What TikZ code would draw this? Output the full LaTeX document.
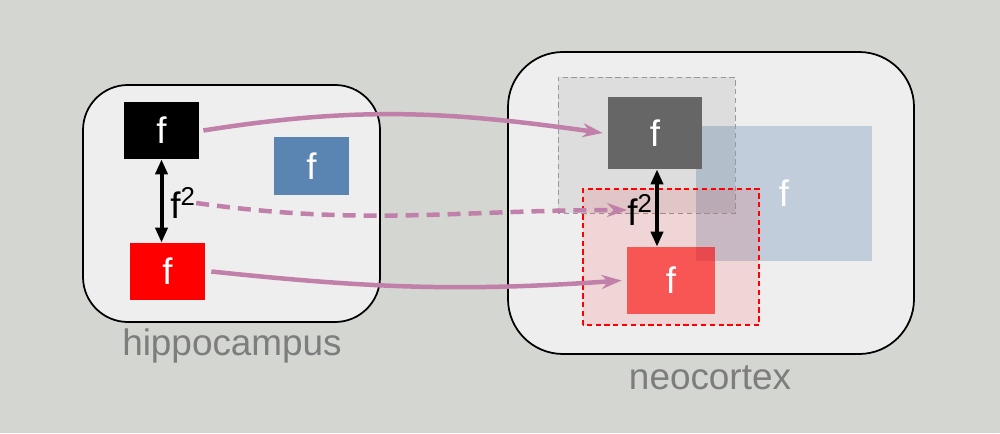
\documentclass[tikz,border=0pt]{standalone}
\usepackage{fontspec}
\setmainfont{Liberation Sans}
\usepackage{tikz}
\usetikzlibrary{arrows.meta,positioning,calc}
\usepackage{xcolor}
\definecolor{bggray}{RGB}{212,214,209}
\definecolor{panelgray}{RGB}{238,238,238}
\definecolor{labelgray}{RGB}{125,125,125}
\definecolor{linkpink}{RGB}{192,128,170}
\definecolor{steelblue}{RGB}{90,132,177}
\definecolor{darkgray}{RGB}{102,102,102}
\tikzset{
    region/.style={draw=black, line width=0.035cm, fill=panelgray, rounded corners=0.9cm},
    fbox/.style={rectangle, minimum width=1.5cm, minimum height=1.14cm, inner sep=0pt,
        text=white, font=\fontsize{21}{25}\selectfont},
    link/.style={linkpink, line width=0.09cm, -{Stealth[length=0.4cm,width=0.28cm]}},
    recall/.style={black, line width=0.08cm, {Triangle[length=0.3cm,width=0.24cm]}-{Triangle[length=0.3cm,width=0.24cm]}},
    areaname/.style={labelgray, font=\fontsize{21}{25}\selectfont},
    fsq/.style={font=\fontsize{21}{25}\selectfont, inner sep=0pt, anchor=west}
}

\begin{document}
\begin{tikzpicture}[x=0.02cm, y=0.02cm]
    % background
    \fill[bggray] (0,0) rectangle (1000,433);
    \useasboundingbox (0,0) rectangle (1000,433);

    % --- Hippocampus ---
    \draw[region] (83,111) rectangle (380,348);
    \node[fbox, fill=black] (hipA) at (161.5,302.5) {f};
    \node[fbox, fill=steelblue, minimum height=1.16cm] (hipB) at (311.5,267) {f};
    \node[fbox, fill=red] (hipC) at (167.5,161.5) {f};
    \draw[recall] (hipA.south) -- (hipA.south |- hipC.north);
    \node[fsq] (hipF) at (170,230) {f\textsuperscript{2}};
    \node[areaname] (hipname) at (232,87) {hippocampus};

    % --- Neocortex ---
    \draw[region, rounded corners=1.1cm] (508,79) rectangle (914,381);
    % blended blue pattern
    \node[fbox, fill=steelblue, fill opacity=0.3, text opacity=1,
        minimum width=3.52cm, minimum height=2.7cm] (neoB) at (784,239.5) {f};
    % gray and red overlap areas
    \draw[gray!80, densely dashed, fill=black, fill opacity=0.07] (558,220) rectangle (735,356);
    \node[fbox, fill=darkgray, minimum width=1.88cm, minimum height=1.44cm] (neoA) at (655,300) {f};
    \draw[red, densely dashed, line width=0.025cm, fill=red, fill opacity=0.1] (583,108) rectangle (759,244);
    \node[fbox, fill=red, fill opacity=0.6, text opacity=1,
        minimum width=1.76cm, minimum height=1.34cm] (neoC) at (671,152.5) {f};
    \draw[recall] ([xshift=0.04cm]neoA.south) -- ([xshift=0.04cm]neoA.south |- neoC.north);
    \node[fsq] (neoF) at (627,223) {f\textsuperscript{2}};
    \node[areaname] (neoname) at (710,55) {neocortex};

    % --- Transfer links ---
    \draw[link] ([xshift=0.08cm]hipA.east) to[out=9, in=172] ([xshift=-0.1cm]neoA.west);
    \draw[link, dashed, dash pattern=on 0.26cm off 0.16cm] (hipF.east) to[out=-8, in=180] (neoF.west);
    \draw[link] ([xshift=0.12cm]hipC.east) to[out=-6, in=184] ([xshift=-0.1cm]neoC.west);
\end{tikzpicture}
\end{document}
